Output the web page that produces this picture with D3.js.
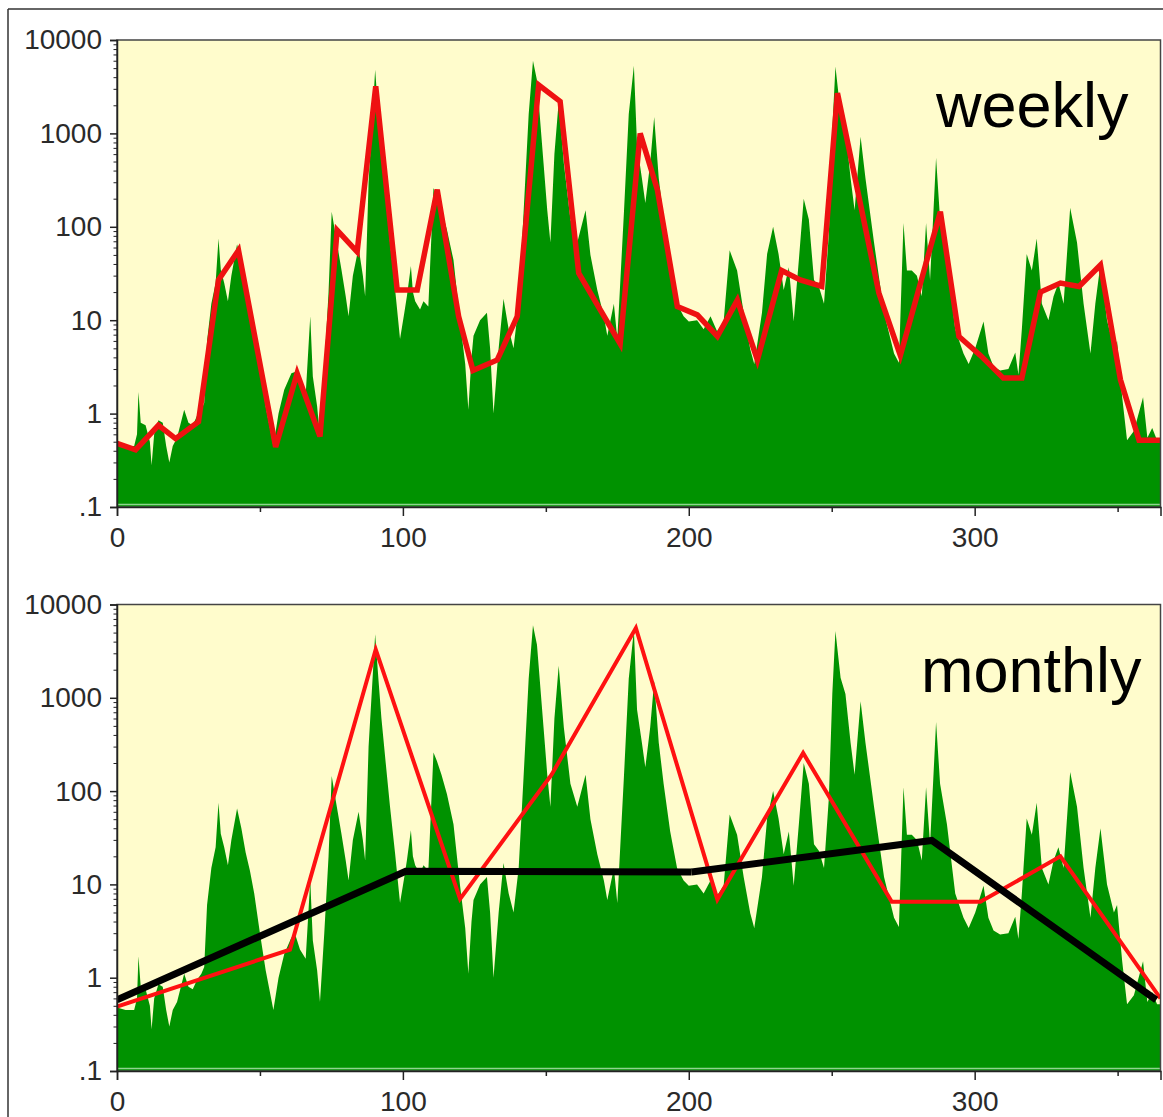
<!DOCTYPE html>
<html><head><meta charset="utf-8">
<script src="https://cdn.jsdelivr.net/npm/d3@7"></script>
<style>
html,body{margin:0;padding:0;background:#fff;}
svg{display:block;}
text{font-family:"Liberation Sans",Arial,Helvetica,sans-serif;}
</style></head>
<body>
<svg id="chart" width="1163" height="1117"></svg>
<script>
// daily series (day, value)
const dailyDays = [0,3,6,7,7.5,8.3,10,11.5,12.1,13,14.5,16,17.2,18.3,19.5,21,23.5,25,26.5,28,29.5,30.5,31.5,33,34.5,35.5,36.3,37.5,38.8,40,42,43.5,45,46.5,48,50,52,54.7,56.5,58.5,61,62.5,64,66,67.6,68.5,70,71,72.5,74,75.1,76.5,78.5,80,81,82.5,84.5,86,86.8,88,90.3,91.5,92.5,93.8,95.5,97.3,99,100.5,101.4,102.8,103.5,104.3,106,107.2,108.9,110.7,111.9,113.5,115.4,117.7,120,121.8,122.9,124,124.7,127,129.4,130.5,131.7,133.5,135.2,137,138.7,140.5,142.2,144,145.5,146.9,149.2,150.5,151.6,153,154.5,156.3,158.6,161,163.9,165.6,168,170.3,171.5,173.8,175,177.3,179,180.8,181.9,183.6,184.8,186.5,187.9,189.5,191.2,193.5,195.9,198.2,200,202.9,205.2,207.6,209.9,212.2,214.3,216.9,219.2,221.5,222.9,225.6,227.4,229.5,231.4,233.2,235,236.7,238.5,240.2,242,243.8,245.5,247.3,249,250.2,251.3,253.1,254.8,256.6,258,260.1,261.8,264.8,268.3,271.8,273.5,275.1,276.3,278,279.8,281.5,283,284.4,286.5,287.9,290.3,293.2,296.1,297.9,300.2,303.1,304.8,306.6,308.9,311.8,314.2,315.3,316.5,318.2,320,321.7,323.5,325.8,327.6,329.3,331.1,333.4,335.8,338.1,340.5,342.2,344,346.3,348.7,349.8,351.6,353.3,355.7,358.9,360.4,362.1,363.8,365];
const dailyVals = [0.48,0.45,0.45,0.6,1.7,0.8,0.75,0.5,0.28,0.6,0.85,0.8,0.45,0.3,0.45,0.55,1.1,0.8,0.75,0.95,1.1,1.3,6,15,25,75,35,25,16,30,65,40,22,14,8,3,1.2,0.45,1,1.8,2.7,2.8,2,1.6,11,2.5,1.2,0.55,3,20,145,80,35,18,11,30,60,30,18,300,4800,1500,600,230,68,21,6.3,12,18,38,20,16,13,16,14,260,210,150,93,44,9.7,3.4,1.1,4,6.8,10,12,5,1.0,5,17,8,5,15,140,1600,6000,3700,480,150,68,600,2200,480,120,68,150,50,21,11,6.8,15,6.3,140,1600,5300,750,330,180,480,1500,330,120,37,15,11,9.7,10,8,11,7.6,9.7,56,34,12,4.9,3.4,12,51,100,51,21,37,9.7,44,200,120,27,23,15,85,1100,5200,1640,1100,330,150,920,330,68,12,4.4,3.5,110,34,34,30,18,110,27,550,120,44,8,4.4,3.4,5,9.7,4.4,3.2,2.9,3,4.5,2.6,8,51,34,75,15,10,18,25,15,160,68,15,4.4,15,40,10,5,6,1.5,0.52,0.65,1.5,0.55,0.7,0.52,0.52];

// weekly averages
const weeklyDays = [0,6.5,14.5,20.5,28.5,35.5,42.5,55.5,63,71,77,84,90.5,98,105,112,119.5,124.5,133,140,147.5,155,161.5,176,183,189,196,203,210,217,224,232.5,239,246.5,252,266.5,274,288,294.5,302,310,316.5,323,330,336.5,344,351,357.5,365];
const weeklyVals = [0.48,0.41,0.75,0.54,0.82,27,56,0.44,2.7,0.57,92,54,3200,21,21,250,11,2.9,3.75,11,3300,2200,32,5.6,1000,250,14,11.4,6.7,16.4,3.75,34,27,23,2700,19.5,4.2,145,6.7,4.2,2.4,2.4,20,25,23,39,2.3,0.52,0.52];

// monthly averages
const monthlyDays = [0,60.5,90.5,120,152,181.5,210,240,271,302,330,365];
const monthlyVals = [0.49,2.0,3300,7.0,150,5600,6.9,256,6.5,6.5,20,0.6];

// longer-period trend (black)
const trendDays = [0,101,201,285,363.5];
const trendVals = [0.58,13.8,13.6,29.6,0.58];

const yTickVals = [0.1,1,10,100,1000,10000];
const yTickLabels = [".1","1","10","100","1000","10000"];
const xTickVals = [0,100,200,300];
const xMinorVals = [50,150,250,350];
const panelLabels = ["weekly","monthly"];

const svg = d3.select("#chart");
const daily = dailyDays.map((d,i)=>[d,dailyVals[i]]);
const weekly = weeklyDays.map((d,i)=>[d,weeklyVals[i]]);
const monthly = monthlyDays.map((d,i)=>[d,monthlyVals[i]]);
const trend = trendDays.map((d,i)=>[d,trendVals[i]]);

// outer frame
svg.append("line").attr("x1",8).attr("y1",9).attr("x2",1163).attr("y2",9).attr("stroke","#333").attr("stroke-width",1.5);
svg.append("line").attr("x1",8).attr("y1",9).attr("x2",8).attr("y2",1117).attr("stroke","#333").attr("stroke-width",1.5);

const x = d3.scaleLinear().domain([0,365]).range([117,1160.5]);
const minorY = [];
[0.1,1,10,100,1000].forEach(b=>{for(let k=2;k<=9;k++) minorY.push(b*k);});

function panel(top, bottom, idx){
  const y = d3.scaleLog().domain([0.1,10000]).range([bottom, top]);
  const g = svg.append("g");
  const cid = "clip"+idx;
  g.append("clipPath").attr("id",cid).append("rect")
    .attr("x",117).attr("y",top).attr("width",1160.5-117).attr("height",bottom-top);
  g.append("rect").attr("x",117).attr("y",top).attr("width",1160.5-117).attr("height",bottom-top)
    .attr("fill","#fffccc");
  const pg = g.append("g").attr("clip-path","url(#"+cid+")");
  pg.append("path").datum(daily)
    .attr("d", d3.area().x(d=>x(d[0])).y0(y(0.1)).y1(d=>y(d[1])))
    .attr("fill","#009200");
  pg.append("line").attr("x1",117).attr("x2",1161).attr("y1",bottom-2.5).attr("y2",bottom-2.5)
    .attr("stroke","#8fd48f").attr("stroke-width",1.5);
  const line = d3.line().x(d=>x(d[0])).y(d=>y(d[1]));
  if(idx===0){
    pg.append("path").datum(weekly).attr("d",line).attr("fill","none")
      .attr("stroke","#ee1111").attr("stroke-width",5.5).attr("stroke-linejoin","miter");
  } else {
    pg.append("path").datum(monthly).attr("d",line).attr("fill","none")
      .attr("stroke","#ff1111").attr("stroke-width",4).attr("stroke-linejoin","miter");
    pg.append("path").datum(trend.slice(0,3)).attr("d",line).attr("fill","none")
      .attr("stroke","#000").attr("stroke-width",7).attr("stroke-linejoin","miter");
    pg.append("path").datum(trend.slice(2)).attr("d",line).attr("fill","none")
      .attr("stroke","#000").attr("stroke-width",7).attr("stroke-linejoin","miter");
  }
  g.append("rect").attr("x",117).attr("y",top).attr("width",1160.5-117).attr("height",bottom-top)
    .attr("fill","none").attr("stroke","#444").attr("stroke-width",1.5);

  // y axis
  const ya = g.append("g").attr("transform","translate(117,0)")
    .call(d3.axisLeft(y).tickValues(yTickVals).tickSize(7).tickPadding(8)
      .tickFormat((d,i)=>yTickLabels[i]));
  ya.select(".domain").attr("stroke","#222").attr("stroke-width",1.5);
  ya.selectAll(".tick line").attr("stroke","#222").attr("stroke-width",1.5);
  ya.selectAll("text").attr("font-size",28).attr("fill","#2a2a2a")
    .attr("font-family","'Liberation Sans',Arial,sans-serif");
  const ym = g.append("g").attr("transform","translate(117,0)")
    .call(d3.axisLeft(y).tickValues(minorY).tickSize(3.5).tickFormat(""));
  ym.select(".domain").remove();
  ym.selectAll(".tick line").attr("stroke","#222").attr("stroke-width",1);

  // x axis
  const xa = g.append("g").attr("transform","translate(0,"+bottom+")")
    .call(d3.axisBottom(x).tickValues(xTickVals).tickSize(9).tickPadding(11).tickFormat(d3.format("d")));
  xa.select(".domain").attr("stroke","#222").attr("stroke-width",1.5);
  xa.selectAll(".tick line").attr("stroke","#222").attr("stroke-width",1.5);
  xa.selectAll("text").attr("font-size",28).attr("fill","#2a2a2a")
    .attr("font-family","'Liberation Sans',Arial,sans-serif");
  const xm = g.append("g").attr("transform","translate(0,"+bottom+")")
    .call(d3.axisBottom(x).tickValues(xMinorVals).tickSize(5).tickFormat(""));
  xm.select(".domain").remove();
  xm.selectAll(".tick line").attr("stroke","#222").attr("stroke-width",1.5);

  // panel label
  g.append("text").attr("x", idx===0 ? 936 : 921).attr("y", top+87)
    .attr("font-size",63).attr("fill","#000").text(panelLabels[idx]);
}

panel(40, 507, 0);
panel(604.5, 1071, 1);
</script>
</body></html>
